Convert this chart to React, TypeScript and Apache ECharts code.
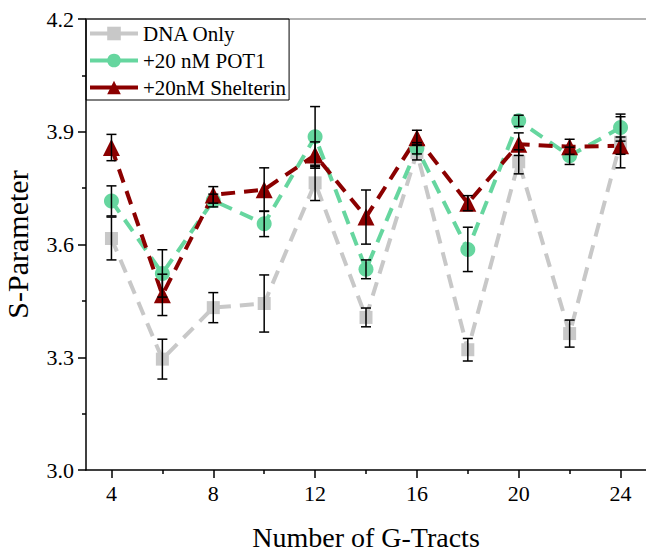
import React, { useEffect, useRef } from "react";
import * as echarts from "echarts";

const tracts = [4, 6, 8, 10, 12, 14, 16, 18, 20, 22, 24];
const dnaOnly = [3.616, 3.295, 3.432, 3.443, 3.764, 3.406, 3.845, 3.32, 3.82, 3.363, 3.872];
const dnaOnlyErr = [0.057, 0.053, 0.04, 0.076, 0.047, 0.025, 0.02, 0.03, 0.032, 0.036, 0.068];
const pot1 = [3.716, 3.523, 3.717, 3.655, 3.887, 3.534, 3.856, 3.587, 3.929, 3.836, 3.911];
const pot1Err = [0.04, 0.063, 0.017, 0.034, 0.08, 0.025, 0.015, 0.059, 0.015, 0.023, 0.036];
const shelterin = [3.858, 3.466, 3.732, 3.746, 3.838, 3.673, 3.884, 3.71, 3.867, 3.86, 3.863];
const shelterinErr = [0.035, 0.055, 0.022, 0.058, 0.035, 0.072, 0.02, 0.02, 0.03, 0.02, 0.023];
const xMajorTicks = [4, 8, 12, 16, 20, 24];
const xMinorTicks = [6, 10, 14, 18, 22];

const FONT = "'Liberation Serif', 'Times New Roman', serif";
const GREY = "#c8c8c8";
const GREEN = "#66d69f";
const RED = "#8b0000";

function errData(vals: number[], errs: number[]) {
  return tracts.map((x, i) => [x, vals[i] - errs[i], vals[i] + errs[i]]);
}

function errSeries(vals: number[], errs: number[]) {
  return {
    type: "custom",
    data: errData(vals, errs),
    z: 10,
    silent: true,
    renderItem: (params: any, api: any) => {
      const x = api.value(0);
      const top = api.coord([x, api.value(2)]);
      const bot = api.coord([x, api.value(1)]);
      const hw = 5;
      const style = { stroke: "#000", lineWidth: 1.5 };
      return {
        type: "group",
        children: [
          { type: "line", shape: { x1: top[0], y1: top[1], x2: bot[0], y2: bot[1] }, style },
          { type: "line", shape: { x1: top[0] - hw, y1: top[1], x2: top[0] + hw, y2: top[1] }, style },
          { type: "line", shape: { x1: bot[0] - hw, y1: bot[1], x2: bot[0] + hw, y2: bot[1] }, style },
        ],
      };
    },
  };
}

function lineSeries(name: string, vals: number[], color: string, symbol: string, size: number) {
  return {
    name,
    type: "line",
    data: tracts.map((x, i) => [x, vals[i]]),
    symbol,
    symbolSize: size,
    itemStyle: { color },
    lineStyle: { color, width: 4, type: [14, 9] },
    z: 5,
  };
}

export default function App() {
  const ref = useRef<HTMLDivElement>(null);
  useEffect(() => {
    const chart = echarts.init(ref.current!, null, { renderer: "svg" });
    chart.setOption({
      animation: false,
      backgroundColor: "#fff",
      textStyle: { fontFamily: FONT },
      grid: {
        left: 86, right: 0, top: 19, bottom: 82,
        show: true, borderWidth: 0,
        outerBoundsMode: "none", containLabel: false,
      },
      legend: {
        left: 86, top: 19, orient: "vertical",
        borderColor: "#000", borderWidth: 1, borderRadius: 0,
        padding: [4, 3, 2, 2],
        itemWidth: 48, itemHeight: 17, itemGap: 6,
        lineStyle: { type: "solid", width: 4 },
        textStyle: { fontFamily: FONT, fontSize: 21, color: "#000", lineHeight: 20 },
        data: ["DNA Only", "+20 nM POT1", "+20nM Shelterin"],
      },
      xAxis: [
        {
          type: "value", min: 3, max: 25,
          name: "Number of G-Tracts", nameLocation: "middle", nameGap: 53,
          nameTextStyle: { fontFamily: FONT, fontSize: 28, color: "#000" },
          axisLine: { lineStyle: { color: "#000", width: 1.5 } },
          axisTick: { customValues: xMajorTicks, length: 8, lineStyle: { color: "#000", width: 1.5 } },
          axisLabel: { customValues: xMajorTicks, fontFamily: FONT, fontSize: 22, color: "#000", margin: 12 },
          splitLine: { show: false },
        },
        {
          type: "value", min: 3, max: 25, position: "bottom",
          axisLine: { show: false },
          axisTick: { customValues: xMinorTicks, length: 4, lineStyle: { color: "#000", width: 1.5 } },
          axisLabel: { show: false },
          splitLine: { show: false },
        },
        {
          type: "value", min: 3, max: 25, position: "top",
          axisLine: { show: true, lineStyle: { color: "#999", width: 1.5 } },
          axisTick: { show: false },
          axisLabel: { show: false },
          splitLine: { show: false },
        },
      ],
      yAxis: {
        type: "value", min: 3.0, max: 4.2, interval: 0.3,
        name: "S-Parameter", nameLocation: "middle", nameGap: 54,
        nameTextStyle: { fontFamily: FONT, fontSize: 30, color: "#000" },
        axisLine: { show: true, lineStyle: { color: "#000", width: 1.5 } },
        axisTick: { show: true, length: 8, lineStyle: { color: "#000", width: 1.5 } },
        minorTick: { show: true, splitNumber: 2, length: 4, lineStyle: { color: "#000", width: 1.5 } },
        axisLabel: { fontFamily: FONT, fontSize: 22, color: "#000", margin: 12, formatter: (v: number) => v.toFixed(1) },
        splitLine: { show: false },
      },
      series: [
        lineSeries("DNA Only", dnaOnly, GREY, "rect", 13),
        lineSeries("+20 nM POT1", pot1, GREEN, "circle", 15),
        lineSeries("+20nM Shelterin", shelterin, RED, "triangle", 17),
        errSeries(dnaOnly, dnaOnlyErr),
        errSeries(pot1, pot1Err),
        errSeries(shelterin, shelterinErr),
      ],
    });
    return () => chart.dispose();
  }, []);
  return <div ref={ref} style={{ width: 646, height: 552, position: "absolute", left: 0, top: 0 }} />;
}
